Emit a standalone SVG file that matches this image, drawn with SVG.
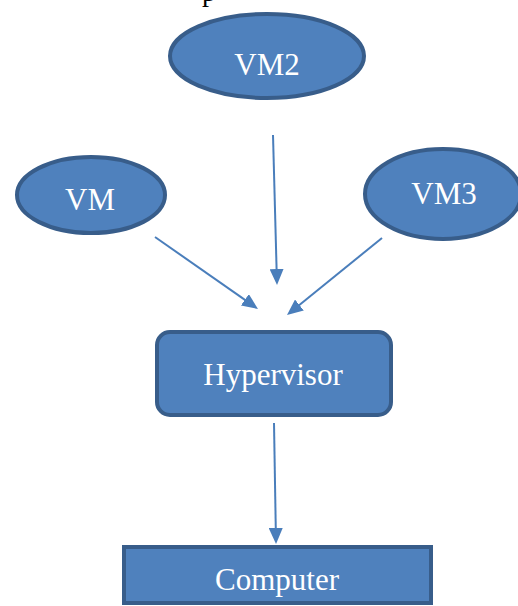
<svg xmlns="http://www.w3.org/2000/svg" width="518" height="606" viewBox="0 0 518 606">
  <style>
    .node { fill: #4F81BD; stroke: #385D8A; stroke-width: 4; }
    .label { fill: #FFFFFF; font-family: "Liberation Serif", "Times New Roman", serif; font-size: 31px; text-anchor: middle; }
    .conn { stroke: #4A7EBB; stroke-width: 2; fill: none; marker-end: url(#arrow); }
    .top { fill: #000000; font-family: "Liberation Serif", "Times New Roman", serif; font-size: 28px; }
  </style>
  <defs>
    <marker id="arrow" viewBox="0 0 16 14" refX="8" refY="7" markerWidth="16" markerHeight="14" markerUnits="userSpaceOnUse" orient="auto">
      <path d="M0,0 L16,7 L0,14 z" fill="#4A7EBB"/>
    </marker>
  </defs>
  <rect width="518" height="606" fill="#FFFFFF"/>
  <text class="top" x="202" y="1">p</text>
  <g id="connectors">
    <line class="conn" x1="273" y1="135" x2="276.8" y2="277"/>
    <line class="conn" x1="155" y1="237" x2="251.4" y2="304.4"/>
    <line class="conn" x1="382" y1="238" x2="293.2" y2="310"/>
    <line class="conn" x1="274" y1="423" x2="275.9" y2="536"/>
  </g>
  <g id="vm2">
    <ellipse class="node" cx="267" cy="56" rx="97" ry="42"/>
    <text class="label" x="267" y="75">VM2</text>
  </g>
  <g id="vm">
    <ellipse class="node" cx="91" cy="195" rx="74" ry="38"/>
    <text class="label" x="90" y="210">VM</text>
  </g>
  <g id="vm3">
    <ellipse class="node" cx="443" cy="194" rx="78" ry="45"/>
    <text class="label" x="444" y="204">VM3</text>
  </g>
  <g id="hypervisor">
    <rect class="node" x="157" y="332" width="234" height="83" rx="13" ry="13"/>
    <text class="label" x="273" y="385">Hypervisor</text>
  </g>
  <g id="computer">
    <rect class="node" x="124" y="547" width="307" height="56"/>
    <text class="label" x="277" y="590">Computer</text>
  </g>
</svg>
